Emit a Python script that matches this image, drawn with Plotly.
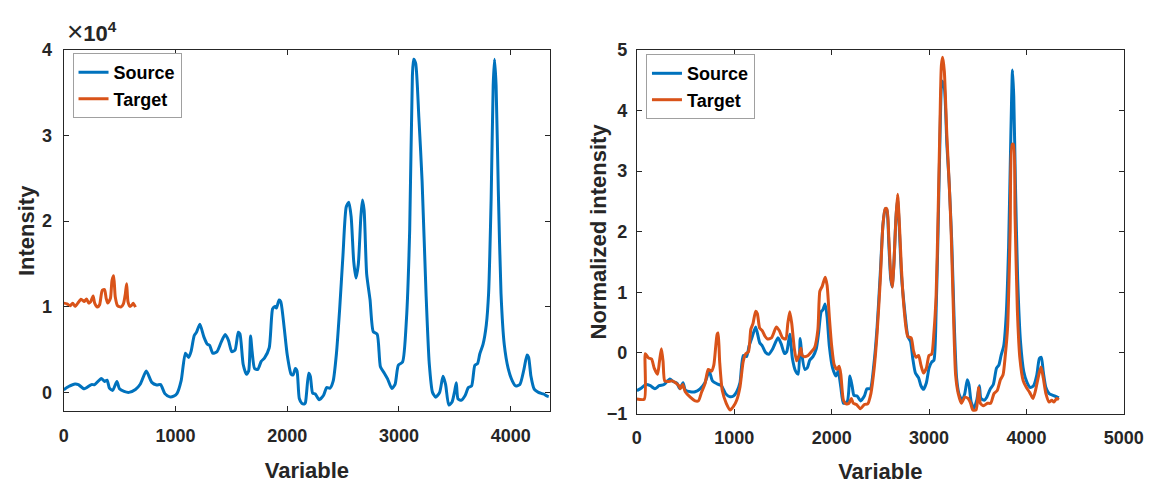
import plotly.graph_objects as go

# ---------------- Left panel: raw intensities ----------------
src_x = [0, 44, 102, 131, 184, 248, 277, 336, 365, 388, 409, 438, 476, 499, 540, 584, 642, 686, 739, 788,
         832, 867, 905, 949, 984, 1013, 1051, 1089, 1118, 1139, 1168, 1188, 1218, 1255, 1285, 1305, 1334,
         1372, 1410, 1445, 1474, 1504, 1533, 1562, 1577, 1606, 1635, 1655, 1672, 1686, 1708, 1737, 1767,
         1796, 1839, 1869, 1889, 1904, 1927, 1942, 1971, 2000, 2035, 2053, 2073, 2088, 2108, 2131, 2152,
         2163, 2192, 2207, 2227, 2251, 2286, 2324, 2353, 2382, 2411, 2440, 2469, 2499, 2528, 2551, 2572,
         2595, 2615, 2636, 2659, 2673, 2688, 2711, 2741, 2770, 2805, 2834, 2869, 2898, 2936, 2965, 2994,
         3032, 3067, 3096, 3120, 3131, 3149, 3178, 3207, 3242, 3271, 3300, 3329, 3364, 3394, 3417, 3446,
         3475, 3499, 3513, 3528, 3557, 3592, 3621, 3650, 3679, 3703, 3723, 3752, 3781, 3802, 3825, 3843,
         3855, 3869, 3889, 3913, 3942, 3977, 4015, 4044, 4082, 4117, 4146, 4160, 4181, 4210, 4248, 4292,
         4327, 4340]
src_y = [300, 680, 980, 906, 415, 906, 906, 1620, 1280, 1430, 490, 226, 1280, 415, 113, 0, 340, 980, 2490, 1170,
         870, 906, -150, -530, -450, -150, 1360, 4570, 4080, 4750, 6640, 7020, 7960, 6450, 5620, 5510, 4570,
         4750, 5890, 6750, 6080, 4750, 4940, 7020, 6830, 3250, 2110, 2490, 6570, 4750, 2790, 2680, 3620,
         4000, 5210, 9740, 10040, 9850, 10790, 10600, 7770, 4380, 2110, 2040, 2790, 2490, -720, -1280, -1360,
         -1190, 2240, 1870, -75, -190, -860, -370, 560, 485, 1310, 4480, 9700, 16040, 21640, 22200, 20520,
         15300, 13360, 14930, 20520, 22460, 21270, 13800, 10820, 7090, 6790, 2990, 2240, 1570, 450, 930, 3170,
         3540, 8580, 19030, 36940, 38900, 38430, 32090, 24630, 11570, 3360, 0, -560, 0, 1870, 930, -1490,
         -1120, 190, 1120, -750, -930, -370, 560, 750, 3170, 3360, 4480, 5600, 7840, 11570, 22760, 35820,
         38900, 35820, 23510, 11570, 5600, 2800, 1310, 750, 930, 2610, 4370, 4100, 1870, 370, 0, -190,
         -450, -500]

tgt_raw_x = [0, 29, 58, 80, 102, 126, 155, 184, 204, 225, 242, 263, 277, 301, 321, 345, 365, 380, 394, 418,
             432, 447, 461, 482, 511, 534, 552, 563, 575, 593, 613, 622, 642]
tgt_raw_y = [10420, 10340, 10110, 10420, 10040, 10420, 10870, 10600, 10910, 10420, 10600, 11250, 10420,
             9960, 10230, 11920, 12000, 10980, 10420, 10980, 13060, 13620, 11170, 10110, 9960, 10340, 11550,
             12680, 10600, 10040, 10230, 10420, 9960]

# ---------------- Right panel: normalized intensities ----------------
nsrc_x = [0, 44, 94, 138, 185, 229, 279, 339, 373, 413, 440, 474, 497, 548, 598, 649, 699, 743, 776, 824,
          867, 911, 951, 992, 1025, 1059, 1092, 1126, 1153, 1187, 1220, 1261, 1287, 1321, 1355, 1395, 1449,
          1482, 1516, 1539, 1570, 1597, 1630, 1657, 1677, 1691, 1724, 1751, 1775, 1808, 1842, 1866, 1892,
          1909, 1933, 1953, 1976, 2010, 2044, 2067, 2094, 2121, 2161, 2188, 2212, 2229, 2262, 2296, 2336,
          2363, 2397, 2433, 2467, 2500, 2527, 2550, 2567, 2587, 2607, 2623, 2640, 2660, 2677, 2693, 2717,
          2750, 2783, 2810, 2833, 2860, 2893, 2917, 2943, 2973, 3000, 3027, 3050, 3073, 3093, 3113, 3133,
          3157, 3183, 3207, 3233, 3260, 3283, 3307, 3340, 3367, 3393, 3410, 3433, 3460, 3490, 3517, 3533,
          3567, 3593, 3627, 3660, 3693, 3717, 3740, 3767, 3793, 3817, 3840, 3857, 3870, 3887, 3910, 3940,
          3973, 4007, 4040, 4073, 4107, 4133, 4153, 4173, 4200, 4233, 4273, 4307, 4333]
nsrc_y = [-0.62, -0.58, -0.52, -0.54, -0.59, -0.54, -0.52, -0.43, -0.47, -0.50, -0.59, -0.49, -0.61, -0.64,
          -0.64, -0.59, -0.49, -0.30, -0.46, -0.51, -0.54, -0.67, -0.72, -0.71, -0.64, -0.49, -0.04, -0.06,
          0.12, 0.28, 0.43, 0.17, 0.12, 0.01, -0.02, 0.07, 0.25, 0.15, -0.01, 0.02, 0.31, -0.09, -0.30, -0.35,
          0.24, 0.02, -0.27, -0.24, -0.12, -0.06, 0.07, 0.33, 0.68, 0.71, 0.81, 0.60, 0.12, -0.25, -0.38,
          -0.30, -0.56, -0.83, -0.80, -0.38, -0.56, -0.70, -0.71, -0.79, -0.71, -0.59, -0.59, -0.20, 0.43,
          1.33, 2.12, 2.38, 2.36, 1.80, 1.22, 1.09, 1.49, 2.22, 2.54, 2.12, 1.28, 0.70, 0.27, 0.19, -0.09,
          -0.33, -0.41, -0.54, -0.60, -0.49, -0.25, -0.15, -0.12, 0.70, 2.01, 3.59, 4.49, 4.38, 3.44, 2.80,
          1.85, 0.43, -0.41, -0.67, -0.78, -0.67, -0.44, -0.52, -0.81, -0.91, -0.78, -0.54, -0.75, -0.78,
          -0.73, -0.60, -0.52, -0.25, -0.20, -0.04, 0.12, 0.64, 1.75, 3.59, 4.67, 4.23, 2.80, 1.22, 0.17,
          -0.31, -0.49, -0.57, -0.54, -0.36, -0.09, -0.07, -0.31, -0.57, -0.67, -0.70, -0.72, -0.74]

ntgt_x = [0, 77, 87, 118, 151, 178, 212, 232, 252, 269, 286, 319, 363, 397, 430, 447, 471, 497, 548, 598,
          632, 666, 699, 733, 766, 790, 824, 834, 850, 877, 918, 958, 992, 1025, 1059, 1092, 1119, 1146,
          1170, 1193, 1220, 1237, 1261, 1287, 1314, 1341, 1382, 1405, 1432, 1462, 1496, 1529, 1550, 1570,
          1590, 1617, 1640, 1664, 1684, 1697, 1724, 1758, 1792, 1825, 1859, 1879, 1903, 1933, 1953, 1976,
          2000, 2027, 2054, 2077, 2094, 2121, 2148, 2178, 2202, 2222, 2255, 2296, 2336, 2370, 2403, 2437,
          2467, 2500, 2527, 2550, 2567, 2587, 2607, 2623, 2640, 2660, 2677, 2693, 2717, 2740, 2767, 2783,
          2817, 2840, 2867, 2893, 2917, 2943, 2973, 3000, 3027, 3050, 3073, 3093, 3113, 3127, 3140, 3157,
          3183, 3207, 3227, 3250, 3273, 3300, 3333, 3367, 3400, 3427, 3450, 3483, 3510, 3527, 3560, 3600,
          3633, 3667, 3700, 3733, 3760, 3783, 3807, 3833, 3853, 3867, 3883, 3907, 3933, 3967, 4000, 4033,
          4067, 4093, 4127, 4150, 4173, 4200, 4233, 4260, 4283, 4310, 4333]
ntgt_y = [-0.76, -0.76, -0.01, -0.08, -0.10, -0.25, -0.35, -0.14, 0.07, -0.14, -0.46, -0.47, -0.46, -0.49,
          -0.54, -0.59, -0.52, -0.64, -0.73, -0.79, -0.79, -0.64, -0.51, -0.27, -0.30, -0.20, 0.31, 0.33,
          -0.14, -0.62, -0.83, -0.94, -0.88, -0.78, -0.56, -0.14, -0.01, 0.02, 0.39, 0.49, 0.69, 0.65, 0.41,
          0.37, 0.28, 0.23, 0.25, 0.33, 0.43, 0.37, 0.25, 0.23, 0.49, 0.68, 0.49, 0.07, -0.13, -0.04, 0.08,
          -0.04, -0.06, -0.04, 0.02, 0.09, 0.39, 1.02, 1.10, 1.25, 1.12, 0.60, 0.12, -0.20, -0.27, -0.22,
          -0.35, -0.78, -0.84, -0.83, -0.75, -0.83, -0.85, -0.92, -0.85, -0.84, -0.67, -0.25, 0.33, 1.22,
          2.12, 2.38, 2.38, 1.91, 1.28, 1.09, 1.49, 2.22, 2.62, 2.22, 1.38, 0.80, 0.38, 0.27, 0.25, 0.04,
          -0.07, -0.04, -0.20, -0.33, -0.25, -0.04, -0.02, 0.33, 0.96, 2.28, 3.86, 4.75, 4.88, 4.65, 3.59,
          2.80, 2.01, 0.70, -0.36, -0.67, -0.83, -0.73, -0.75, -0.83, -0.94, -0.94, -0.57, -0.83, -0.87,
          -0.83, -0.83, -0.67, -0.62, -0.44, -0.36, -0.04, 0.43, 2.01, 3.44, 3.44, 2.28, 0.70, -0.09, -0.46,
          -0.57, -0.65, -0.75, -0.62, -0.36, -0.23, -0.41, -0.67, -0.81, -0.78, -0.81, -0.75, -0.77]

left_ytick_vals = [0, 10000, 20000, 30000, 40000]
left_ytick_text = ["0", "1", "2", "3", "4"]
left_xtick_vals = [0, 1000, 2000, 3000, 4000]
right_xtick_vals = [0, 1000, 2000, 3000, 4000, 5000]
right_ytick_vals = [-1, 0, 1, 2, 3, 4, 5]

BLUE = "#0072BD"
ORANGE = "#D95319"
AXC = "#262626"
FONT = "Liberation Sans, Arial, sans-serif"
W, H = 1167, 484

fig = go.Figure()
lw = 3
sm = 0.6
fig.add_trace(go.Scatter(x=src_x, y=src_y, mode="lines", name="Source",
                         line=dict(color=BLUE, width=lw, shape="spline", smoothing=sm),
                         xaxis="x", yaxis="y", legend="legend"))
fig.add_trace(go.Scatter(x=tgt_raw_x, y=tgt_raw_y, mode="lines", name="Target",
                         line=dict(color=ORANGE, width=lw, shape="spline", smoothing=sm),
                         xaxis="x", yaxis="y", legend="legend"))
fig.add_trace(go.Scatter(x=nsrc_x, y=nsrc_y, mode="lines", name="Source",
                         line=dict(color=BLUE, width=lw, shape="spline", smoothing=sm),
                         xaxis="x2", yaxis="y2", legend="legend2"))
fig.add_trace(go.Scatter(x=ntgt_x, y=ntgt_y, mode="lines", name="Target",
                         line=dict(color=ORANGE, width=lw, shape="spline", smoothing=sm),
                         xaxis="x2", yaxis="y2", legend="legend2"))

tickfont = dict(family=FONT, size=18, color=AXC, weight="bold")
titlefont = dict(family=FONT, size=22, color=AXC, weight="bold")
common = dict(showline=True, linecolor=AXC, linewidth=1, mirror="ticks", ticks="inside",
              ticklen=5, tickwidth=1, tickcolor=AXC, showgrid=False, zeroline=False,
              tickfont=tickfont)

fig.update_layout(
    width=W, height=H, margin=dict(l=0, r=0, t=0, b=0),
    paper_bgcolor="white", plot_bgcolor="white",
    xaxis=dict(domain=[60 / W, 557 / W], range=[0, 4352], tickvals=left_xtick_vals,
               ticklabelstandoff=8,
               title=dict(text="Variable", font=titlefont, standoff=17), anchor="y", **common),
    yaxis=dict(domain=[1 - 418.5 / H, 1 - 41.5 / H], range=[-2200, 40000], tickvals=left_ytick_vals,
               ticktext=left_ytick_text, ticklabelstandoff=7, anchor="x", **common),
    xaxis2=dict(domain=[645.7 / W, 1143.3 / W], range=[0, 5000], tickvals=right_xtick_vals,
                ticklabelstandoff=8,
                title=dict(text="Variable", font=titlefont, standoff=17), anchor="y2", **common),
    yaxis2=dict(domain=[1 - 421 / H, 1 - 41.7 / H], range=[-1, 5], tickvals=right_ytick_vals,
                ticklabelstandoff=5, anchor="x2", **common),
    legend=dict(x=69 / W, y=1 - 45 / H, xanchor="left", yanchor="top", bgcolor="white",
                bordercolor="#A0A0A0", borderwidth=1, tracegroupgap=0,
                font=dict(family=FONT, size=18, color="black", weight="bold")),
    legend2=dict(x=655 / W, y=1 - 46 / H, xanchor="left", yanchor="top", bgcolor="white",
                 bordercolor="#A0A0A0", borderwidth=1, tracegroupgap=0,
                 font=dict(family=FONT, size=18, color="black", weight="bold")),
    annotations=[
        dict(text="<span style='font-size:28px;font-weight:normal'>×</span>10<sup>4</sup>",
             x=61 / W, y=1 - 41 / H, xref="paper", yref="paper",
             xanchor="left", yanchor="bottom", showarrow=False,
             font=dict(family=FONT, size=22, color=AXC, weight="bold")),
        dict(text="Intensity", textangle=-90, x=22 / W, y=1 - 230 / H, xref="paper", yref="paper",
             xanchor="center", yanchor="middle", showarrow=False, font=titlefont),
        dict(text="Normalized intensity", textangle=-90, x=606 / W, y=1 - 231 / H, xref="paper",
             yref="paper", xanchor="center", yanchor="middle", showarrow=False, font=titlefont),
    ],
)

fig.write_html("out.html")
